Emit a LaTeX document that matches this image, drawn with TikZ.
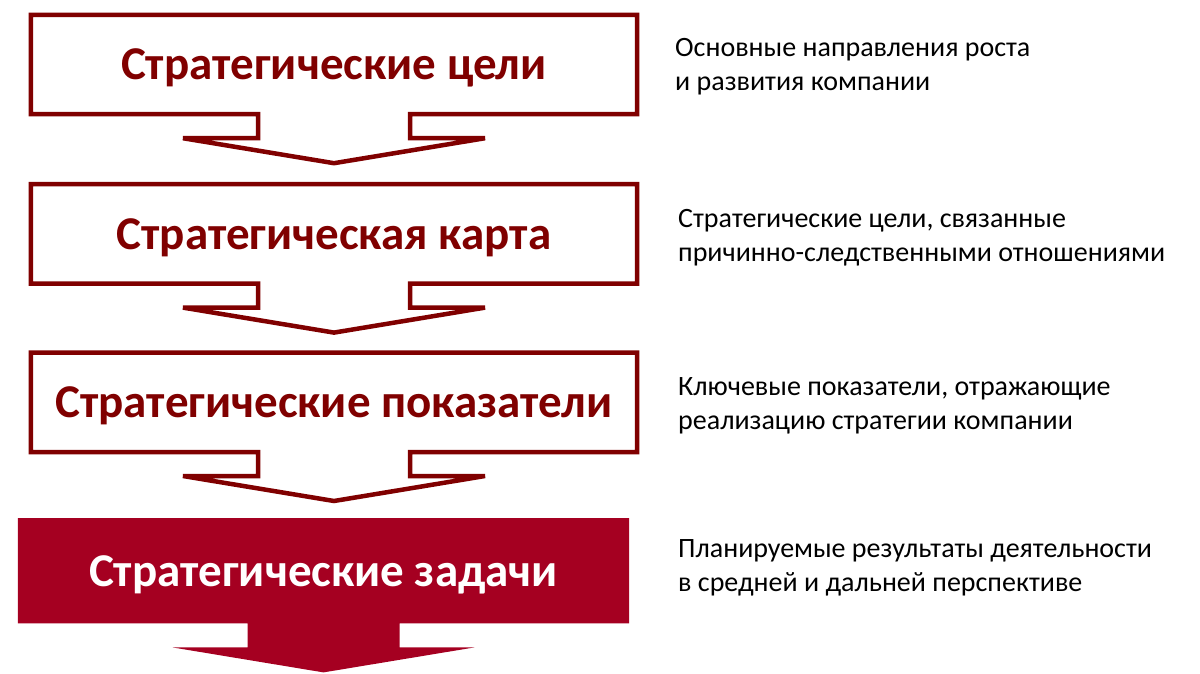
\documentclass[tikz,border=0pt]{standalone}
\usepackage{fontspec}
\setmainfont{Carlito}
\usepackage{tikz}
\usetikzlibrary{calc, positioning, backgrounds}
\definecolor{darkred}{HTML}{800000}
\definecolor{crimson}{HTML}{A50021}

\begin{document}
\begin{tikzpicture}[
    x=1pt, y=-1pt,
    goal/.style={minimum width=606pt, minimum height=99pt, inner sep=0pt, text depth=0pt, font=\fontsize{47}{50}\selectfont\bfseries, text=darkred},
    task/.style={minimum width=611pt, minimum height=105pt, inner sep=0pt, text depth=0pt, font=\fontsize{47}{50}\selectfont\bfseries, text=white},
    note/.style={anchor=base west, align=left, inner sep=0pt, font=\fontsize{28}{34}\selectfont},
    callout/.style={insert path={(#1.north west) -- (#1.north east) -- (#1.south east) -- ($(#1.south)+(76,0)$) -- ++(0,24) -- ++(75,0) -- ($(#1.south)+(0,49)$) -- ($(#1.south)+(-151,24)$) -- ++(75,0) -- ($(#1.south)+(-76,0)$) -- (#1.south west) -- cycle}},
    outline/.style={draw=darkred, line width=4.5pt, line join=miter},
    taskfill/.style={fill=crimson}
]
\useasboundingbox (0,0) rectangle (1200,674);

\node[goal] (goal) at (334,64.5) {Стратегические цели};
\node[goal, below=70pt of goal] (map) {Стратегическая карта};
\node[goal, below=69pt of map] (kpi) {Стратегические показатели};
\node[task, below=66pt of kpi, xshift=-10.5pt] (task) {Стратегические задачи};

\draw[outline] [callout=goal];
\draw[outline] [callout=map];
\draw[outline] [callout=kpi];
\begin{scope}[on background layer]
    \fill[taskfill] [callout=task];
\end{scope}

\node[note] (goalnote) at (675,91) {Основные направления роста\\и развития компании};
\node[note] (mapnote) at (678,261) {Стратегические цели, связанные\\причинно-следственными отношениями};
\node[note] (kpinote) at (678,429) {Ключевые показатели, отражающие\\реализацию стратегии компании};
\node[note] (tasknote) at (678,591) {Планируемые результаты деятельности\\в средней и дальней перспективе};

\end{tikzpicture}
\end{document}
